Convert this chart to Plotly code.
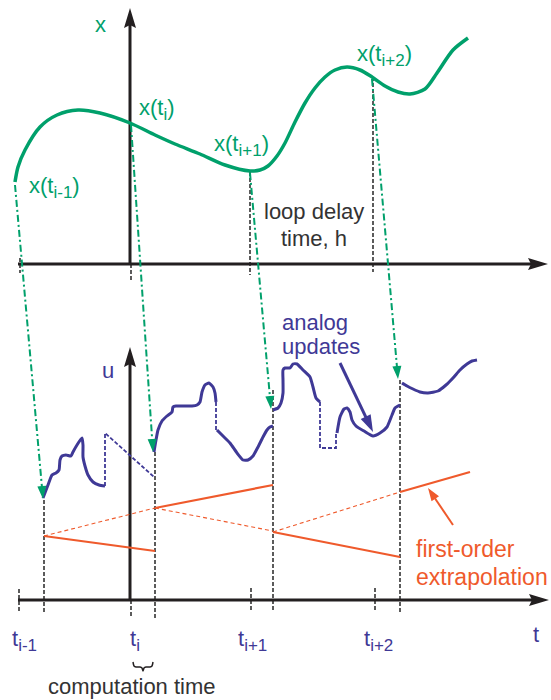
import math
import plotly.graph_objects as go

W, H = 551, 700
FONT = "Liberation Sans, Arial, Helvetica, sans-serif"
GREEN = "#00a06b"
PURPLE = "#3f3996"
ORANGE = "#ef5a2c"
BLACK = "#231f20"
GRAY = "#333333"


def sub(s, px):
    return "<sub><span style='font-size:%dpx'>%s</span></sub>" % (px, s)


# ---- data (diagram drawn in a 551 x 700 unit plane, y downwards) ----
# continuous state x(t), top panel
state_x = [15, 18, 25, 40, 57, 78, 100, 130, 155, 175, 200, 225, 250, 260, 268, 277, 285, 295, 305, 315, 325, 335, 347, 360, 372, 385, 398, 410, 425, 437, 453, 468]
state_y = [182, 167, 150, 127, 115, 110, 113, 123, 135, 144, 154, 165, 171, 170, 166, 156, 143, 122, 103, 88, 77, 70, 67, 70, 77, 86, 92, 94, 89, 73, 50, 38]

# sample instants and delayed update instants (time axis positions)
sample_t = [19, 131, 251, 375]
update_t = [44, 155, 273, 400]
tick_subs = ["i-1", "i", "i+1", "i+2"]
tick_label_left = [10, 128, 236, 362]

# sampled-state labels
state_subs = ["i-1", "i", "i+1", "i+2"]
state_label_left = [27, 137, 212, 355]
state_label_y = [187, 109, 145, 55]

# transfer arrows: sampled state -> start of analog update
xfer_x0 = [15, 131, 250, 372]
xfer_y0 = [185, 125, 173, 79]
xfer_x1 = [43, 153, 271, 398]
xfer_y1 = [499, 452, 409, 379]

# control signal u(t), solid pieces
u_solid = [
    ([43, 48, 52, 56, 59, 60, 62, 66, 71, 73, 77, 82, 83, 83, 85, 88, 93, 99, 105],
     [498, 485, 475, 473, 470, 460, 456, 455, 456, 452, 445, 438, 445, 457, 466, 475, 482, 485, 486]),
    ([154, 156, 158, 162, 167, 172, 173, 176, 182, 192, 197, 200, 202, 205, 209, 213, 215, 216],
     [452, 440, 430, 421, 416, 412, 407, 406, 406, 406, 405, 402, 392, 385, 383, 387, 393, 402]),
    ([217, 223, 230, 237, 243, 248, 253, 258, 263, 267, 270, 273],
     [430, 436, 443, 453, 460, 460, 456, 447, 437, 430, 427, 426]),
    ([273, 278, 281, 283, 283, 283, 285, 290, 293, 297, 303, 310, 313, 316, 320],
     [410, 408, 403, 393, 380, 370, 368, 368, 364, 364, 370, 377, 387, 398, 402]),
    ([337, 340, 344, 347, 350, 352, 356, 364, 373, 380, 387, 392, 395, 400],
     [433, 417, 409, 408, 412, 420, 426, 431, 436, 433, 427, 415, 408, 405]),
    ([402, 407, 413, 420, 428, 438, 446, 453, 460, 467, 472, 477],
     [383, 386, 389, 392, 393, 391, 385, 378, 370, 364, 361, 360]),
]
# control signal u(t), dashed (jump) pieces
u_dashed = [
    ([105, 105, 154], [486, 433, 477]),
    ([216, 216], [402, 432]),
    ([320, 320, 336, 336], [402, 448, 448, 433]),
]

# first-order extrapolation lines
extrap_solid = [([44, 155], [536, 551]), ([155, 273], [508, 485]), ([273, 400], [532, 557]), ([400, 470], [492, 472])]
extrap_dashed = [([44, 155], [536, 508]), ([155, 273], [508, 531]), ([273, 400], [532, 492])]

# vertical dashed guides (x, y_top, y_bottom)
guides_top = [(20, 258, 273), (131, 264, 280), (250, 172, 275), (373, 77, 272)]
guides_bot = [(19, 589, 611), (44, 500, 612), (131, 600, 617), (155, 452, 618),
              (251, 588, 612), (273, 390, 612), (375, 588, 612), (400, 380, 612)]

fig = go.Figure()


def line(xs, ys, color, width, dash=None, shape="linear", smoothing=1.0):
    fig.add_trace(go.Scatter(x=xs, y=ys, mode="lines", hoverinfo="skip", showlegend=False,
                             line=dict(color=color, width=width, dash=dash, shape=shape,
                                       smoothing=smoothing)))


def head(x0, y0, x1, y1, L, Wd, color, notch=0.0):
    dx, dy = x1 - x0, y1 - y0
    n = math.hypot(dx, dy)
    ux, uy = dx / n, dy / n
    px, py = -uy, ux
    bx, by = x1 - L * ux, y1 - L * uy
    xs = [x1, bx + px * Wd / 2, bx + notch * ux, bx - px * Wd / 2, x1]
    ys = [y1, by + py * Wd / 2, by + notch * uy, by - py * Wd / 2, y1]
    fig.add_trace(go.Scatter(x=xs, y=ys, mode="lines", fill="toself", fillcolor=color,
                             line=dict(width=0, color=color), hoverinfo="skip", showlegend=False))


def arrow(x0, y0, x1, y1, color, width, L, Wd, notch=0.0, dash=None):
    dx, dy = x1 - x0, y1 - y0
    n = math.hypot(dx, dy)
    ex, ey = x1 - dx / n * L * 0.6, y1 - dy / n * L * 0.6
    line([x0, ex], [y0, ey], color, width, dash=dash)
    head(x0, y0, x1, y1, L, Wd, color, notch)


# guides
for gx, g0, g1 in guides_top + guides_bot:
    line([gx, gx], [g0, g1], GRAY, 1.6, dash="4px,2px")

# axes
arrow(130, 265, 130, 8, BLACK, 3, 20, 12, 3)
arrow(18, 264, 548, 264, BLACK, 3, 20, 12, 3)
arrow(130, 600, 130, 347, BLACK, 3, 20, 12, 3)
arrow(18, 600, 549, 600, BLACK, 3, 20, 12, 3)

# state curve
line(state_x, state_y, GREEN, 3.5, shape="spline", smoothing=0.8)

# extrapolation
for xs, ys in extrap_dashed:
    line(xs, ys, ORANGE, 1.1, dash="4px,3px")
for xs, ys in extrap_solid:
    line(xs, ys, ORANGE, 2.2)

# control signal
for xs, ys in u_dashed:
    line(xs, ys, PURPLE, 1.8, dash="4px,2px")
for xs, ys in u_solid:
    line(xs, ys, PURPLE, 3, shape="spline", smoothing=0.5)

# transfer arrows
for a, b, c, d in zip(xfer_x0, xfer_y0, xfer_x1, xfer_y1):
    arrow(a, b, c, d, GREEN, 2, 13, 9, 0, dash="7px,3px,2px,3px")

# annotation arrows
arrow(340, 363, 373, 432, PURPLE, 3, 17, 11, 0)
arrow(453, 525, 428, 488, ORANGE, 2, 13, 9, 0)

# computation-time brace
brace_x = [133, 134, 136, 140, 142, 143, 144, 146, 150, 152, 153]
brace_y = [662, 666, 667, 667, 668, 671, 668, 667, 667, 666, 662]
line(brace_x, brace_y, BLACK, 1.5, shape="spline", smoothing=0.6)

ann = []


def txt(x, y, s, color, size=22, xanchor="left"):
    ann.append(dict(x=x, y=y, xref="x", yref="y", text=s, showarrow=False, xanchor=xanchor,
                    yanchor="middle", font=dict(family=FONT, size=size, color=color)))


txt(100, 24, "x", GREEN, xanchor="center")
for s, lx, ly in zip(state_subs, state_label_left, state_label_y):
    txt(lx, ly, "x(t" + sub(s, 17) + ")", GREEN, size=22)
txt(314, 211, "loop delay", GRAY, size=22, xanchor="center")
txt(314, 238, "time, h", GRAY, size=22, xanchor="center")
txt(108, 370, "u", PURPLE, xanchor="center")
txt(280, 322, "analog", PURPLE)
txt(280, 346, "updates", PURPLE)
txt(414, 549, "first-order", ORANGE, size=23)
txt(414, 577, "extrapolation", ORANGE, size=23)
for s, lx in zip(tick_subs, tick_label_left):
    txt(lx, 640, "t" + sub(s, 17), PURPLE, size=22)
txt(531, 634, "t", PURPLE, size=22)
txt(132, 686, "computation time", GRAY, xanchor="center")

fig.update_layout(
    width=W, height=H, margin=dict(l=0, r=0, t=0, b=0),
    paper_bgcolor="white", plot_bgcolor="white",
    xaxis=dict(range=[0, W], visible=False, fixedrange=True),
    yaxis=dict(range=[H, 0], visible=False, fixedrange=True),
    annotations=ann, showlegend=False,
)
fig.write_html("out.html")
